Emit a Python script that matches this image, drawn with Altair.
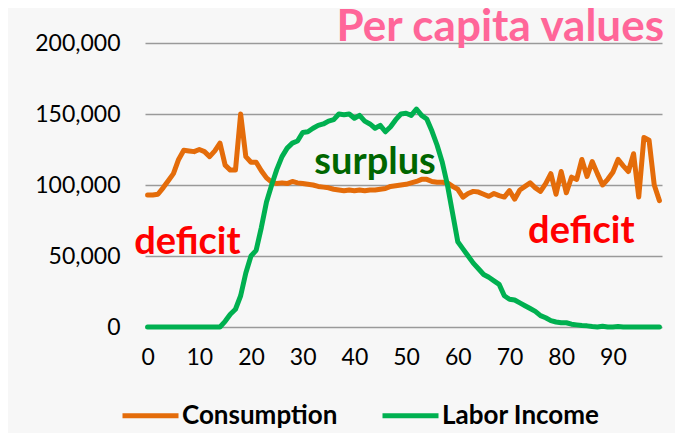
import altair as alt
import pandas as pd

ages = list(range(100))

consumption = [
    93000, 93000, 93500, 98000, 103000, 108000, 118000, 124500, 124000, 123500,
    125000, 123500, 120000, 124000, 129500, 114000, 110500, 110500, 150000, 120000,
    116000, 116000, 110000, 105000, 102000, 101000, 101500, 101000, 102500, 101500,
    101000, 100500, 100000, 99000, 98500, 98000, 97000, 96500, 96000, 96500,
    96000, 96500, 96000, 96500, 96500, 97000, 97500, 99000, 99500, 100000,
    100500, 101500, 102500, 104000, 104000, 102500, 102000, 102000, 101500, 99000,
    97000, 91500, 94000, 95500, 95000, 93500, 92000, 94000, 92500, 91500,
    96000, 90000, 96500, 99000, 101500, 98000, 95500, 101000, 108000, 93500,
    109500, 94500, 105500, 104000, 118000, 106000, 116500, 108000, 100000, 104000,
    109000, 118000, 113500, 109500, 122000, 91500, 133500, 131500, 100000, 89000,
]

labor_income = [
    0, 0, 0, 0, 0, 0, 0, 0, 0, 0,
    0, 0, 0, 0, 0, 4000, 9000, 12500, 22000, 38000,
    50000, 54000, 70000, 88000, 100000, 111000, 120000, 126000, 129500, 131000,
    137000, 137500, 140000, 142000, 143000, 145000, 146000, 150000, 149500, 150000,
    147000, 149000, 145000, 143000, 140000, 142000, 137500, 141000, 146000, 150000,
    150500, 149000, 153500, 149000, 146500, 138000, 128000, 116000, 100000, 80000,
    60000, 55000, 50000, 45000, 41000, 37000, 35000, 32500, 30000, 22000,
    19500, 19000, 17000, 15000, 13000, 11000, 8000, 6500, 4500, 3500,
    3000, 3000, 2000, 1500, 1000, 800, 300, 0, 500, 0,
    0, 300, 0, 0, 0, 0, 0, 0, 0, 0,
]

series_names = ["Consumption", "Labor Income"]
series_colors = ["#E46C0A", "#00B050"]

note_labels = ["surplus", "deficit", "deficit"]
note_ages = [44, 7.7, 83.9]
note_values = [108000, 51500, 59500]
note_colors = ["#006600", "#FF0000", "#FF0000"]

title_text = "Per capita values"
y_ticks = [0, 50000, 100000, 150000, 200000]
x_ticks = [0, 10, 20, 30, 40, 50, 60, 70, 80, 90]

FONT = "Lato"

df = pd.DataFrame({
    "age": ages * 2,
    "value": consumption + labor_income,
    "series": [series_names[0]] * len(ages) + [series_names[1]] * len(ages),
})
notes = pd.DataFrame({"label": note_labels, "age": note_ages, "value": note_values, "tc": note_colors})
title_df = pd.DataFrame({"t": [title_text]})

W, H = 517, 284

x_scale = alt.Scale(domain=[-0.5, 99.5], nice=False, zero=False)
y_scale = alt.Scale(domain=[0, 200000], nice=False)

lines = alt.Chart(df).mark_line(strokeWidth=5, strokeCap="round", strokeJoin="round").encode(
    x=alt.X("age:Q", scale=x_scale,
            axis=alt.Axis(values=x_ticks, title=None, grid=False, domain=False, ticks=False,
                          labelPadding=19, labelFontSize=23, labelFont=FONT, labelColor="#000000",
                          labelFlush=False)),
    y=alt.Y("value:Q", scale=y_scale,
            axis=alt.Axis(values=y_ticks, format=",d", title=None, domain=False, ticks=False,
                          labelPadding=25, labelFontSize=23, labelFont=FONT, labelColor="#000000",
                          gridColor="#9a9a9a", gridWidth=1.6)),
    color=alt.Color("series:N", scale=alt.Scale(domain=series_names, range=series_colors),
                    legend=alt.Legend(title=None, orient="none", legendX=-25, legendY=342,
                                      direction="horizontal", columns=2, symbolType="stroke",
                                      symbolSize=3136, symbolStrokeWidth=5, labelOffset=1,
                                      columnPadding=34, labelFont=FONT, labelFontSize=26,
                                      labelFontWeight="bold", labelColor="#000000",
                                      labelLimit=400)),
    order=alt.Order("age:Q"),
)

texts = alt.Chart(notes).mark_text(fontSize=38, fontWeight="bold", font=FONT,
                                   align="center", baseline="alphabetic").encode(
    x=alt.X("age:Q", scale=x_scale),
    y=alt.Y("value:Q", scale=y_scale),
    text="label:N",
    color=alt.Color("tc:N", scale=None, legend=None),
)

title = alt.Chart(title_df).mark_text(fontSize=44, fontWeight="bold", font=FONT, color="#FF6699",
                                      align="right", baseline="alphabetic").encode(
    x=alt.value(W + 2), y=alt.value(-2), text="t:N",
)

chart = alt.layer(lines, texts, title).resolve_scale(color="independent").properties(
    width=W, height=H,
    autosize=alt.AutoSizeParams(type="none"),
    padding={"left": 137, "top": 35, "right": 13, "bottom": 106},
    background="#f7f7f7",
).configure_view(stroke=None)

chart.save("out.html", embed_options={"renderer": "svg", "actions": False})
